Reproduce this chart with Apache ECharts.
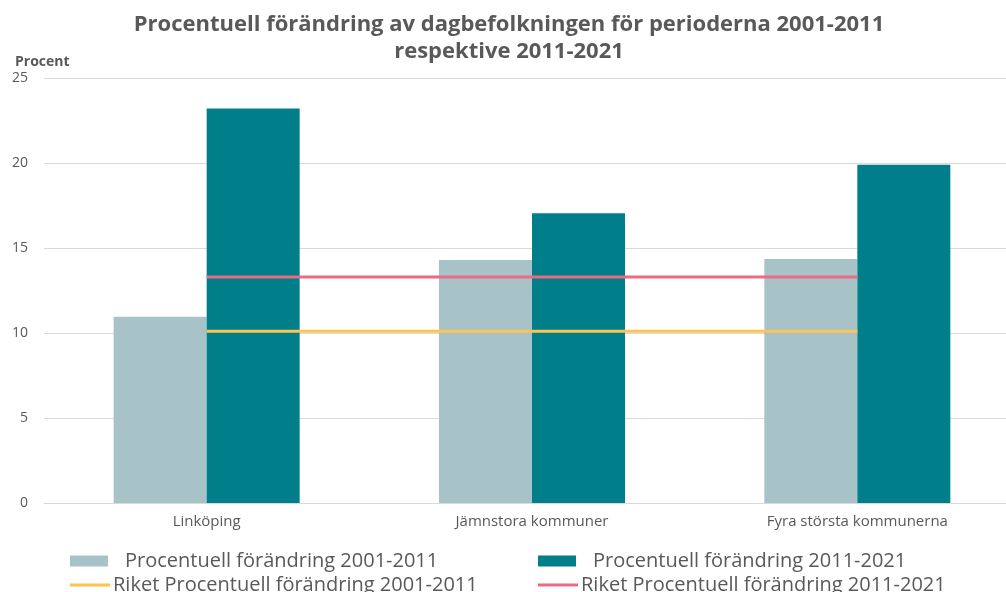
<!DOCTYPE html>
<html>
<head>
<meta charset="utf-8">
<script src="https://cdn.jsdelivr.net/npm/echarts@6/dist/echarts.min.js"></script>
<style>
  html, body { margin: 0; padding: 0; background: #fff; overflow: hidden; }
  /* plotytan går ut lite förbi högerkanten i originalet */
  #chart { width: 1020px; height: 592px; }
</style>
</head>
<body>
<div id="chart"></div>
<script>
  // kategorier och värden (procent)
  const categories = ['Linköping', 'Jämnstora kommuner', 'Fyra största kommunerna']
  const period1 = [10.95, 14.3, 14.35]
  const period2 = [23.2, 17.05, 19.9]
  const riket1 = [10.1, 10.1, 10.1]
  const riket2 = [13.3, 13.3, 13.3]

  const names = [
    'Procentuell förändring 2001-2011',
    'Procentuell förändring 2011-2021',
    'Riket Procentuell förändring 2001-2011',
    'Riket Procentuell förändring 2011-2021'
  ]

  const font = '"Open Sans", Lato, sans-serif'
  const txt = '#595959'

  function legendItem (name, left, top, isLine) {
    return {
      data: [name],
      left: left,
      top: top,
      padding: 0,
      icon: 'rect',
      itemWidth: isLine ? 40 : 38,
      itemHeight: isLine ? 3 : 11,
      selectedMode: false,
      textStyle: {
        fontFamily: font,
        fontSize: 20,
        color: txt,
        padding: isLine ? [0, 0, 0, -2] : [0, 0, 0, 12]
      }
    }
  }

  let chart = echarts.init(document.getElementById('chart'))
  chart.setOption({
    animation: false,
    title: [{
      text: 'Procentuell förändring av dagbefolkningen för perioderna 2001-2011\nrespektive 2011-2021',
      left: 504,
      top: 6,
      textAlign: 'center',
      textStyle: {
        fontFamily: font,
        fontSize: 22,
        fontWeight: 'bold',
        color: txt,
        lineHeight: 27
      }
    }, {
      text: 'Procent',
      left: 10,
      top: 50,
      textStyle: { fontFamily: font, fontSize: 14, fontWeight: 'bold', color: txt }
    }],
    legend: [
      legendItem(names[0], 70, 551, false),
      legendItem(names[1], 538, 551, false),
      legendItem(names[2], 70, 575, true),
      legendItem(names[3], 538, 575, true)
    ],
    grid: {
      left: 44,
      right: 0,
      top: 78,
      bottom: 89,
      containLabel: false
    },
    xAxis: {
      type: 'category',
      data: categories,
      axisLine: { lineStyle: { color: '#d9d9d9', width: 1 } },
      axisTick: { show: false },
      axisLabel: { fontFamily: font, fontSize: 15, color: txt, margin: 11 }
    },
    yAxis: {
      type: 'value',
      min: 0,
      max: 25,
      interval: 5,
      axisLine: { show: false },
      axisTick: { show: false },
      axisLabel: { fontFamily: font, fontSize: 14, color: txt, margin: 16 },
      splitLine: { lineStyle: { color: '#d9d9d9', width: 1 } }
    },
    series: [{
      name: names[0],
      type: 'bar',
      data: period1,
      barWidth: 93,
      barGap: '0%',
      itemStyle: { color: '#a7c3c8' }
    }, {
      name: names[1],
      type: 'bar',
      data: period2,
      barWidth: 93,
      barGap: '0%',
      itemStyle: { color: '#007f8b' }
    }, {
      name: names[2],
      type: 'line',
      data: riket1,
      symbol: 'none',
      lineStyle: { color: '#ffc34f', width: 3 },
      itemStyle: { color: '#ffc34f' }
    }, {
      name: names[3],
      type: 'line',
      data: riket2,
      symbol: 'none',
      lineStyle: { color: '#ee6a82', width: 3 },
      itemStyle: { color: '#ee6a82' }
    }]
  })
</script>
</body>
</html>
